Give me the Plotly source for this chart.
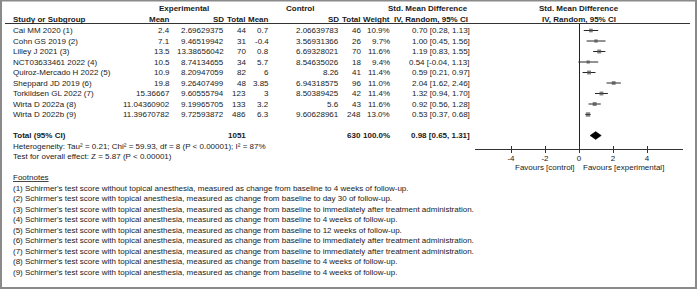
import plotly.graph_objects as go

W, H = 697, 289

studies = ["Cai MM 2020 (1)", "Cohn GS 2019 (2)", "Lilley J 2021 (3)", "NCT03633461 2022 (4)",
           "Quiroz-Mercado H 2022 (5)", "Sheppard JD 2019 (6)", "Torkildsen GL 2022 (7)",
           "Wirta D 2022a (8)", "Wirta D 2022b (9)"]
exp_mean = ["2.4", "7.1", "13.5", "10.5", "10.9", "19.8", "15.36667", "11.04360902", "11.39670782"]
exp_sd = ["2.69629375", "9.46519942", "13.38656042", "8.74134655", "8.20947059", "9.26407499",
          "9.60555794", "9.19965705", "9.72593872"]
exp_n = [44, 31, 70, 34, 82, 48, 123, 133, 486]
ctl_mean = ["0.7", "-0.4", "0.8", "5.7", "6", "3.85", "3", "3.2", "6.3"]
ctl_sd = ["2.06639783", "3.56931366", "6.69328021", "8.54635026", "8.26", "6.94318575",
          "8.50389425", "5.6", "9.60628961"]
ctl_n = [46, 26, 70, 18, 41, 96, 42, 43, 248]
weight = [10.9, 9.7, 11.6, 9.4, 11.4, 11.0, 11.4, 11.6, 13.0]
smd = [0.70, 1.00, 1.19, 0.54, 0.59, 2.04, 1.32, 0.92, 0.53]
ci_lo = [0.28, 0.45, 0.83, -0.04, 0.21, 1.62, 0.94, 0.56, 0.37]
ci_hi = [1.13, 1.56, 1.55, 1.13, 0.97, 2.46, 1.70, 1.28, 0.68]

total_smd, total_lo, total_hi = 0.98, 0.65, 1.31
total_weight = "100.0%"
heterogeneity = "Heterogeneity: Tau² = 0.21; Chi² = 59.93, df = 8 (P < 0.00001); I² = 87%"
overall = "Test for overall effect: Z = 5.87 (P < 0.00001)"
axis_ticks = [-4, -2, 0, 2, 4]
footnotes = [
    "(1) Schirmer's test score without topical anesthesia, measured as change from baseline to 4 weeks of follow-up.",
    "(2) Schirmer's test score with topical anesthesia, measured as change from baseline to day 30 of follow-up.",
    "(3) Schirmer's test score with topical anesthesia, measured as change from baseline to immediately after treatment administration.",
    "(4) Schirmer's test score with topical anesthesia, measured as change from baseline to 4 weeks of follow-up.",
    "(5) Schirmer's test score with topical anesthesia, measured as change from baseline to 12 weeks of follow-up.",
    "(6) Schirmer's test score with topical anesthesia, measured as change from baseline to immediately after treatment administration.",
    "(7) Schirmer's test score with topical anesthesia, measured as change from baseline to immediately after treatment administration.",
    "(8) Schirmer's test score with topical anesthesia, measured as change from baseline to 4 weeks of follow-up.",
    "(9) Schirmer's test score with topical anesthesia, measured as change from baseline to 4 weeks of follow-up.",
]

FONT = "Liberation Sans, Arial, sans-serif"
TXT = "#1a1a1a"
FS = 8

rows = list(range(len(studies)))
total_row = len(studies) + 1

# layout geometry (pixels)
LINE = 10.5
ROW0 = 30.5
H1, H2 = 8.5, 19.5
Y_TOP, Y_AXIS = 23.5, 149.0
Y_FAV = 167.5
COL = dict(name=13, emean=170, esd=224, en=246, cmean=269, csd=339, cn=361, wt=390, ci=470, cihdr=468)


def px(p):
    return p / W


def py(p):
    return 1 - p / H


annotations = []


def ann(text, x, y, xanchor="left", yref="paper", xref="paper", bold=False, size=FS, color=TXT):
    if bold:
        text = "<b>" + text + "</b>"
    annotations.append(dict(text=text, x=x, y=y, xref=xref, yref=yref, xanchor=xanchor,
                            yanchor="middle", showarrow=False, borderpad=0, borderwidth=0,
                            font=dict(family=FONT, size=size, color=color)))


# header rows
ann("Experimental", px(184), py(H1), "center", bold=True)
ann("Control", px(300), py(H1), "center", bold=True)
ann("Std. Mean Difference", px(COL["cihdr"]), py(H1), "right", bold=True)
ann("Std. Mean Difference", 0, py(H1), "center", xref="x", bold=True)
ann("Study or Subgroup", px(COL["name"]), py(H2), "left", bold=True)
for txt, key in [("Mean", "emean"), ("SD", "esd"), ("Total", "en"), ("Mean", "cmean"), ("SD", "csd"),
                 ("Total", "cn"), ("Weight", "wt"), ("IV, Random, 95% CI", "cihdr")]:
    ann(txt, px(COL[key]), py(H2), "right", bold=True)
ann("IV, Random, 95% CI", 0, py(H2), "center", xref="x", bold=True)

# study rows
for i, r in enumerate(rows):
    ann(studies[i], px(COL["name"]), r, "left", yref="y")
    ann(exp_mean[i], px(COL["emean"]), r, "right", yref="y")
    ann(exp_sd[i], px(COL["esd"]), r, "right", yref="y")
    ann(str(exp_n[i]), px(COL["en"]), r, "right", yref="y")
    ann(ctl_mean[i], px(COL["cmean"]), r, "right", yref="y")
    ann(ctl_sd[i], px(COL["csd"]), r, "right", yref="y")
    ann(str(ctl_n[i]), px(COL["cn"]), r, "right", yref="y")
    ann(f"{weight[i]:.1f}%", px(COL["wt"]), r, "right", yref="y")
    ann(f"{smd[i]:.2f} [{ci_lo[i]:.2f}, {ci_hi[i]:.2f}]", px(COL["ci"]), r, "right", yref="y")

# total row
ann("Total (95% CI)", px(COL["name"]), total_row, "left", yref="y", bold=True)
ann(str(sum(exp_n)), px(COL["en"]), total_row, "right", yref="y", bold=True)
ann(str(sum(ctl_n)), px(COL["cn"]), total_row, "right", yref="y", bold=True)
ann(total_weight, px(COL["wt"]), total_row, "right", yref="y", bold=True)
ann(f"{total_smd:.2f} [{total_lo:.2f}, {total_hi:.2f}]", px(COL["ci"]), total_row, "right",
    yref="y", bold=True)
y_total_px = ROW0 + total_row * LINE
ann(heterogeneity, px(COL["name"]), py(y_total_px + LINE), "left")
ann(overall, px(COL["name"]), py(y_total_px + 2 * LINE), "left")

# favours labels
ann("Favours [control]", -0.25, py(Y_FAV), "right", xref="x")
ann("Favours [experimental]", 0.25, py(Y_FAV), "left", xref="x")

# footnotes
y_fn = y_total_px + 4 * LINE
ann("<u>Footnotes</u>", px(COL["name"]), py(y_fn), "left")
for k, f in enumerate(footnotes):
    ann(f, px(COL["name"]), py(y_fn + (k + 1) * LINE), "left")

fig = go.Figure()

sq_size = [w * 0.34 for w in weight]
fig.add_trace(go.Scatter(
    x=smd, y=rows, mode="markers",
    marker=dict(symbol="square", size=sq_size, color="#4d4d4d", line=dict(width=0)),
    error_x=dict(type="data", symmetric=False,
                 array=[h - m for h, m in zip(ci_hi, smd)],
                 arrayminus=[m - l for m, l in zip(smd, ci_lo)],
                 width=0, thickness=1, color="#262626"),
    hoverinfo="skip", cliponaxis=False))

dh = 0.37
fig.add_trace(go.Scatter(
    x=[total_lo, total_smd, total_hi, total_smd, total_lo],
    y=[total_row, total_row - dh, total_row, total_row + dh, total_row],
    mode="lines", fill="toself", fillcolor="#000000", line=dict(color="#000000", width=0.5),
    hoverinfo="skip"))

# invisible trace on overlay axis giving the upward half of the crossing ticks
fig.add_trace(go.Scatter(x=[0], y=[0], xaxis="x2", mode="markers",
                         marker=dict(opacity=0), hoverinfo="skip"))

r_top = -(ROW0 - Y_TOP) / LINE
r_bot = r_top + (Y_AXIS - Y_TOP) / LINE

x0_px, unit_px = 579, 17
xr = (683 - x0_px) / unit_px
x_dom = [px(x0_px - xr * unit_px), px(x0_px + xr * unit_px)]

fig.update_layout(
    width=W, height=H, margin=dict(l=0, r=0, t=0, b=0),
    paper_bgcolor="white", plot_bgcolor="rgba(0,0,0,0)", showlegend=False,
    font=dict(family=FONT, size=FS, color=TXT),
    xaxis=dict(domain=x_dom, range=[-xr, xr], tickvals=axis_ticks,
               ticktext=[str(t) for t in axis_ticks],
               ticks="outside", ticklen=3, tickcolor="#333", tickwidth=1,
               ticklabelstandoff=-2,
               showline=True, linecolor="#333", linewidth=1,
               zeroline=True, zerolinecolor="#222", zerolinewidth=1,
               showgrid=False, tickfont=dict(size=FS, family=FONT, color=TXT), fixedrange=True),
    xaxis2=dict(domain=x_dom, range=[-xr, xr], overlaying="x", anchor="y", side="bottom",
                tickvals=axis_ticks, ticks="inside", ticklen=3, tickcolor="#333",
                showticklabels=False, showline=False, zeroline=False, showgrid=False),
    yaxis=dict(domain=[py(Y_AXIS), py(Y_TOP)], range=[r_bot, r_top], visible=False,
               fixedrange=True),
    annotations=annotations,
    shapes=[
        dict(type="line", xref="paper", yref="paper", x0=px(5), x1=px(690),
             y0=py(Y_TOP), y1=py(Y_TOP), line=dict(color="#333", width=1)),
        dict(type="rect", xref="paper", yref="paper", x0=px(1), x1=px(696),
             y0=py(288), y1=py(0.5), line=dict(color="#8a8a8a", width=2)),
    ],
)

fig.write_html("out.html", config=dict(displayModeBar=False, staticPlot=True),
               post_script="document.body.style.margin='0';document.body.style.overflow='hidden';")
